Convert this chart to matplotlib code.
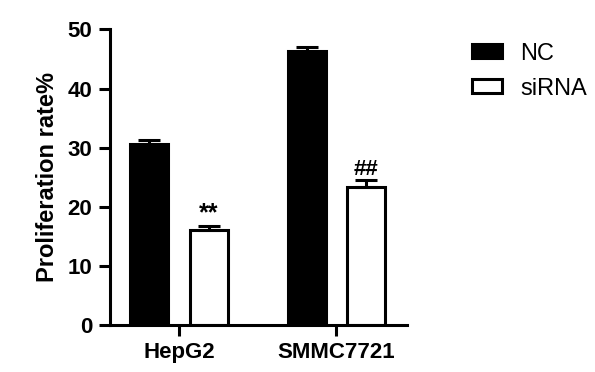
import matplotlib.pyplot as plt
import numpy as np
from matplotlib.patches import Patch

plt.rcParams['font.family'] = ['Liberation Sans', 'DejaVu Sans']

groups = ["HepG2", "SMMC7721"]
series = ["NC", "siRNA"]
nc_vals = [30.7, 46.3]
nc_err = [0.6, 0.7]
si_vals = [16.0, 23.3]
si_err = [0.8, 1.2]
marks = ["**", "##"]

fig = plt.figure(figsize=(5.95, 3.72), dpi=100)
ax = fig.add_axes([0.185, 0.126, 0.499, 0.795])

x = np.arange(len(groups))
w = 0.24
off = 0.189
lw = 2.2

ax.bar(x - off, nc_vals, w, color="black", edgecolor="black", linewidth=lw)
ax.bar(x + off, si_vals, w, color="white", edgecolor="black", linewidth=lw)

# upper error bars only
ax.errorbar(x - off, nc_vals, yerr=[[0] * len(nc_err), nc_err], fmt="none",
            ecolor="black", elinewidth=lw, capsize=8, capthick=lw)
ax.errorbar(x + off, si_vals, yerr=[[0] * len(si_err), si_err], fmt="none",
            ecolor="black", elinewidth=lw, capsize=8, capthick=lw)

for xi, v, e, m, fs in zip(x + off, si_vals, si_err, marks, [18, 16]):
    ax.text(xi, v + e + 0.1, m, ha="center", va="bottom", fontsize=fs,
            fontweight="bold")

ax.set_xlim(-0.438, 1.448)
ax.set_ylim(0, 50)
ax.set_yticks([0, 10, 20, 30, 40, 50])
ax.set_xticks(x)
ax.set_xticklabels(groups, fontsize=16, fontweight="bold")
for lab in ax.get_yticklabels():
    lab.set_fontsize(16)
    lab.set_fontweight("bold")
ax.set_ylabel("Proliferation rate%", fontsize=17, fontweight="bold", labelpad=6)

for s in ["top", "right"]:
    ax.spines[s].set_visible(False)
for s in ["left", "bottom"]:
    ax.spines[s].set_linewidth(lw)
ax.tick_params(axis="both", width=lw, length=8)
ax.tick_params(axis="y", pad=5)
ax.tick_params(axis="x", pad=4)

handles = [Patch(facecolor="black", edgecolor="black", linewidth=lw),
           Patch(facecolor="white", edgecolor="black", linewidth=lw)]
fig.legend(handles, series, loc="upper left", bbox_to_anchor=(0.765, 0.93),
           frameon=False, fontsize=17, handlelength=1.3, handleheight=0.55,
           labelspacing=0.55, handletextpad=0.75, borderpad=0.2)

fig.savefig("out.png", dpi=100)
